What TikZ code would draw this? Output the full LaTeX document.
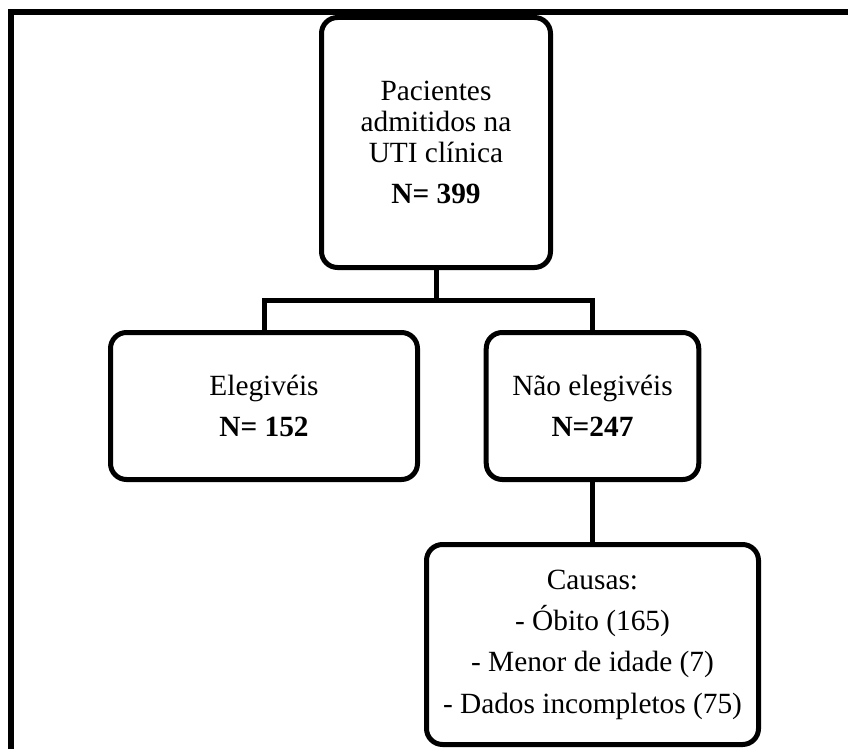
\documentclass[tikz,border=0pt]{standalone}
\usepackage{fontspec}
\setmainfont{Liberation Serif}
\usepackage{tikz}

\begin{document}
\begin{tikzpicture}[x=0.75pt,y=-0.75pt,
    every node/.style={font=\fontsize{22}{23}\selectfont},
    stage/.style={draw=black,line width=3.75pt,rounded corners=12pt,align=center,inner sep=0pt},
    link/.style={draw=black,line width=3.75pt},
    frame/.style={draw=black,line width=4.5pt}]
    \useasboundingbox (0,0) rectangle (848,749);
    \draw[frame] (848,12) -- (11,12) -- (11,749);
    \node[stage,minimum width=171.75pt,minimum height=187.5pt] (root) at (436,142.5)
      {Pacientes\\admitidos na\\UTI clínica\\[8pt]\textbf{N= 399}};
    \node[stage,minimum width=230.25pt,minimum height=110.25pt] (elig) at (264,406)
      {Elegivéis\\[8pt]\textbf{N= 152}};
    \node[stage,minimum width=159.4pt,minimum height=110.25pt] (nelig) at (592.5,406)
      {Não elegivéis\\[8pt]\textbf{N=247}};
    \node[stage,minimum width=249pt,minimum height=150pt] (causes) at (592.5,644.5)
      {Causas:\\[8pt]- Óbito (165)\\[8pt]- Menor de idade (7)\\[8pt]- Dados incompletos (75)};
    \coordinate (split) at (436,300);
    \draw[link] (root.south) -- (split);
    \draw[link] (elig.north) |- (split) -| (nelig.north);
    \draw[link] (nelig.south) -- (causes.north);
  \end{tikzpicture}
\end{document}
